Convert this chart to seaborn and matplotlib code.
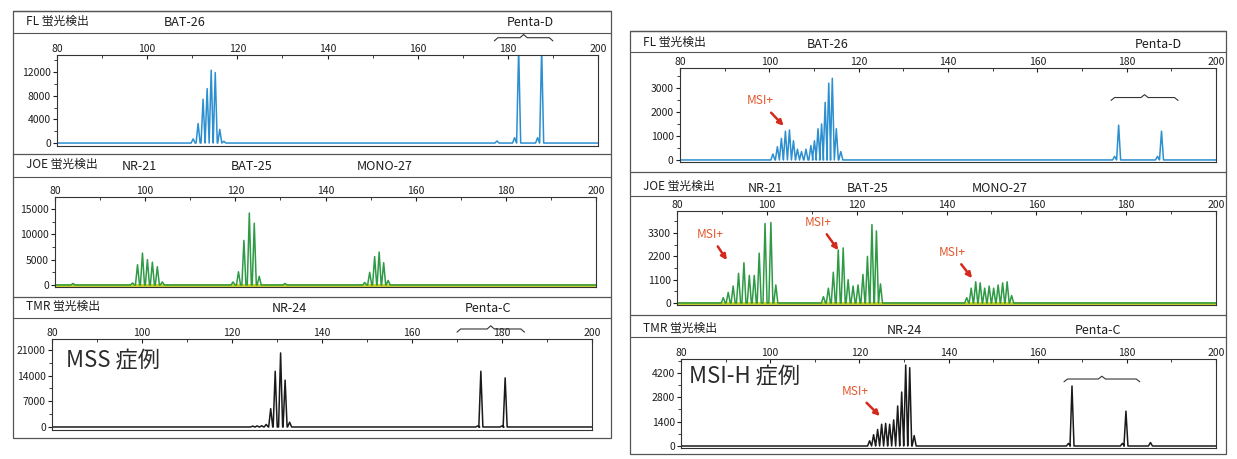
import pandas as pd
import matplotlib.pyplot as plt
import matplotlib.transforms as mtransforms
from matplotlib.patches import Rectangle
from matplotlib.ticker import MultipleLocator
import seaborn as sns

sns.set_style("white")
plt.rcParams['font.family'] = ['Noto Sans CJK JP', 'DejaVu Sans']

W, H = 1237, 459

# peak positions (bp) and heights (RFU)
# MSS case (left column)
mss_fl_bp = [110.2, 111.3, 112.4, 113.3, 114.2, 115.1, 116.1, 117.0, 177.6, 181.5, 182.4, 186.6, 187.5]
mss_fl_h = [700, 3300, 7400, 9200, 12300, 11900, 2300, 300, 350, 900, 16000, 900, 16000]

mss_joe_bp = [84.0, 97.2, 98.3, 99.4, 100.5, 101.6, 102.7, 103.8,
              119.5, 120.7, 121.9, 123.1, 124.2, 125.3, 131.0,
              148.7, 149.8, 150.9, 151.9, 152.9, 153.9]
mss_joe_h = [300, 400, 4000, 6300, 5000, 4500, 3600, 600,
             600, 2600, 8800, 14200, 12200, 1700, 300,
             500, 2500, 5600, 6500, 4400, 900]

mss_tmr_bp = [124.6, 125.6, 126.6, 127.6, 128.6, 129.6, 130.8, 131.8, 132.8, 174.6, 175.3, 180.0, 180.7]
mss_tmr_h = [250, 300, 350, 700, 5000, 15200, 20200, 12800, 1300, 300, 15200, 300, 13400]

# MSI-H case (right column)
msi_fl_bp = [100.8, 101.8, 102.7, 103.6, 104.5, 105.4, 106.3, 107.2, 108.2, 109.3, 110.1,
             110.9, 111.7, 112.5, 113.3, 114.1, 115.0, 116.0, 177.3, 178.2, 186.9, 187.8]
msi_fl_h = [250, 550, 900, 1200, 1250, 800, 450, 350, 450, 600, 800,
            1300, 1500, 2400, 3200, 3400, 1300, 350, 150, 1450, 150, 1200]

msi_joe_bp = [90.3, 91.4, 92.5, 93.7, 94.9, 96.1, 97.2, 98.3, 99.6, 100.9, 102.0,
              112.6, 113.7, 114.8, 115.9, 117.0, 118.1, 119.2, 120.3, 121.4, 122.4, 123.4, 124.4, 125.3,
              144.5, 145.5, 146.5, 147.5, 148.5, 149.5, 150.5, 151.5, 152.5, 153.5, 154.5]
msi_joe_h = [250, 500, 800, 1400, 1900, 1300, 1300, 2350, 3750, 3800, 850,
             300, 700, 1450, 2500, 2600, 1100, 800, 850, 1350, 2200, 3700, 3400, 900,
             250, 700, 1000, 950, 700, 800, 700, 850, 950, 1000, 350]

msi_tmr_bp = [122.3, 123.2, 124.1, 125.0, 125.9, 126.8, 127.7, 128.6, 129.5, 130.4, 131.3, 132.3,
              166.9, 167.7, 179.0, 179.8, 185.3]
msi_tmr_h = [300, 650, 950, 1250, 1300, 1250, 1500, 2300, 3100, 4650, 4500, 600,
             150, 3450, 150, 2000, 200]

# marker names and their positions (bp)
mss_fl_names, mss_fl_name_bp = ["BAT-26", "Penta-D"], [108.4, 184.9]
mss_joe_names, mss_joe_name_bp = ["NR-21", "BAT-25", "MONO-27"], [98.8, 123.7, 153.2]
mss_tmr_names, mss_tmr_name_bp = ["NR-24", "Penta-C"], [132.7, 177.0]
msi_fl_names, msi_fl_name_bp = ["BAT-26", "Penta-D"], [113.0, 187.1]
msi_joe_names, msi_joe_name_bp = ["NR-21", "BAT-25", "MONO-27"], [99.6, 122.5, 151.9]
msi_tmr_names, msi_tmr_name_bp = ["NR-24", "Penta-C"], [130.2, 173.5]

# MSI+ arrows: (tip bp, tip RFU, text bp, text RFU)
msi_fl_arrows = [(103.2, 1420, 97.9, 2460)]
msi_joe_arrows = [(91.1, 2020, 87.3, 3240), (115.9, 2490, 111.4, 3810), (145.7, 1170, 141.2, 2390)]
msi_tmr_arrows = [(124.6, 1720, 119.0, 3160)]

INK = '#1e1e1e'
FL_C, JOE_C, TMR_C = '#2b8fd0', '#2e9a45', '#1a1a1a'

fig = plt.figure(figsize=(W / 100, H / 100), dpi=100)
bg = fig.add_axes([0, 0, 1, 1])
bg.set_xlim(0, W)
bg.set_ylim(H, 0)
bg.axis('off')


def px_rect(x0, y0, x1, y1):
    return [x0 / W, 1 - y1 / H, (x1 - x0) / W, (y1 - y0) / H]


def trace(bp, h, half=0.45):
    xs, ys = [80], [0]
    for p, v in sorted(zip(bp, h)):
        xs += [p - half, p, p + half]
        ys += [0, v, 0]
    xs.append(200)
    ys.append(0)
    return pd.DataFrame({'bp': xs, 'rfu': ys})


def brace(ax, x0, x1, y, d, trans):
    xm = (x0 + x1) / 2
    xs = [x0, x0 + 0.8, xm - 0.8, xm, xm + 0.8, x1 - 0.8, x1]
    ys = [y - d, y, y, y + d, y, y, y - d]
    ax.plot(xs, ys, color='#333333', lw=0.8, transform=trans, clip_on=False)


def draw_panel(col, top, label_y, line_y, frame, channel, bp, h, color,
               ylim, ystep, names, name_bp):
    cx0, cx1 = col
    fx0, fy0, fx1, fy1 = frame
    # header of the panel
    bg.plot([cx0, cx1], [top, top], color='#555555', lw=0.9)
    bg.plot([cx0, cx1], [line_y, line_y], color='#555555', lw=0.8)
    bg.text(cx0 + 13, label_y, channel, fontsize=8.5, color=INK, va='center', ha='left')

    ax = fig.add_axes(px_rect(fx0, fy0, fx1, fy1))
    if channel.startswith('JOE'):
        ax.axhline(0, color='#c9d21c', lw=2.0, zorder=1)
    sns.lineplot(data=trace(bp, h), x='bp', y='rfu', ax=ax, color=color, lw=1.1,
                 sort=False, estimator=None, zorder=2)
    ax.set_xlim(80, 200)
    ax.set_ylim(*ylim)
    ax.set_xlabel('')
    ax.set_ylabel('')
    ax.xaxis.set_major_locator(MultipleLocator(20))
    ax.xaxis.set_minor_locator(MultipleLocator(10))
    ax.yaxis.set_major_locator(MultipleLocator(ystep))
    ax.yaxis.set_minor_locator(MultipleLocator(ystep / 2))
    ax.set_yticks([t for t in ax.get_yticks() if 0 <= t <= ylim[1]])
    ax.tick_params(axis='x', which='both', direction='in', top=True, bottom=False,
                   labeltop=True, labelbottom=False, labelsize=7.5, pad=1, colors=INK)
    ax.tick_params(axis='x', which='major', length=3)
    ax.tick_params(axis='x', which='minor', length=2)
    ax.tick_params(axis='y', which='both', direction='out', left=True, labelsize=7.5,
                   pad=1.5, colors=INK)
    ax.tick_params(axis='y', which='major', length=3)
    ax.tick_params(axis='y', which='minor', length=2)
    for s in ax.spines.values():
        s.set_color('#333333')
        s.set_linewidth(0.8)

    # marker names in the header row
    trans_bg = mtransforms.blended_transform_factory(ax.transData, bg.transData)
    for n, b in zip(names, name_bp):
        ax.text(b, label_y + 2, n, transform=trans_bg, fontsize=9, color=INK,
                ha='center', va='center')
    return ax


left_col = (13, 611)
right_col = (630, 1226)

ax1 = draw_panel(left_col, 11, 21, 33, (57, 55, 598, 146), 'FL 蛍光検出',
                 mss_fl_bp, mss_fl_h, FL_C, (-500, 14870), 4000, mss_fl_names, mss_fl_name_bp)
ax2 = draw_panel(left_col, 154, 164, 177, (55, 197, 596, 287), 'JOE 蛍光検出',
                 mss_joe_bp, mss_joe_h, JOE_C, (-400, 17370), 5000, mss_joe_names, mss_joe_name_bp)
ax3 = draw_panel(left_col, 297, 306, 318, (52, 339, 592, 430), 'TMR 蛍光検出',
                 mss_tmr_bp, mss_tmr_h, TMR_C, (-820, 24000), 7000, mss_tmr_names, mss_tmr_name_bp)
ax4 = draw_panel(right_col, 31, 42, 52, (680, 68, 1216, 162), 'FL 蛍光検出',
                 msi_fl_bp, msi_fl_h, FL_C, (-85, 3830), 1000, msi_fl_names, msi_fl_name_bp)
ax5 = draw_panel(right_col, 172, 186, 196, (677, 211, 1216, 305), 'JOE 蛍光検出',
                 msi_joe_bp, msi_joe_h, JOE_C, (-95, 4340), 1100, msi_joe_names, msi_joe_name_bp)
ax6 = draw_panel(right_col, 315, 328, 337, (681, 359, 1216, 448), 'TMR 蛍光検出',
                 msi_tmr_bp, msi_tmr_h, TMR_C, (-115, 5000), 1400, msi_tmr_names, msi_tmr_name_bp)

# outer frames of both columns
bg.add_patch(Rectangle((13, 11), 598, 427, fill=False, ec='#555555', lw=0.9))
bg.add_patch(Rectangle((630, 31), 596, 423, fill=False, ec='#555555', lw=0.9))

# braces over the Penta loci
brace(ax1, 177, 190, 1.19, 0.035, ax1.get_xaxis_transform())
brace(ax3, 170, 185, 1.11, 0.035, ax3.get_xaxis_transform())
brace(ax4, 176.5, 191.5, 2600, 120, ax4.transData)
brace(ax6, 165.9, 182.9, 3850, 160, ax6.transData)

# MSI+ callouts
for ax, arrows in [(ax4, msi_fl_arrows), (ax5, msi_joe_arrows), (ax6, msi_tmr_arrows)]:
    for tx, ty, lx, ly in arrows:
        ax.annotate('MSI+', xy=(tx, ty), xytext=(lx, ly), fontsize=8.5, color='#e2572b',
                    ha='center', va='center',
                    arrowprops=dict(arrowstyle='-|>', color='#d42a1e', lw=1.8,
                                    mutation_scale=8, shrinkA=2, shrinkB=0))

# case labels
ax3.text(83.0, 0.76, 'MSS 症例', transform=ax3.get_xaxis_transform(), fontsize=16,
         color='#2a2a2a', ha='left', va='center')
ax6.text(81.8, 0.80, 'MSI-H 症例', transform=ax6.get_xaxis_transform(), fontsize=16,
         color='#2a2a2a', ha='left', va='center')

fig.savefig('out.png', dpi=100)
